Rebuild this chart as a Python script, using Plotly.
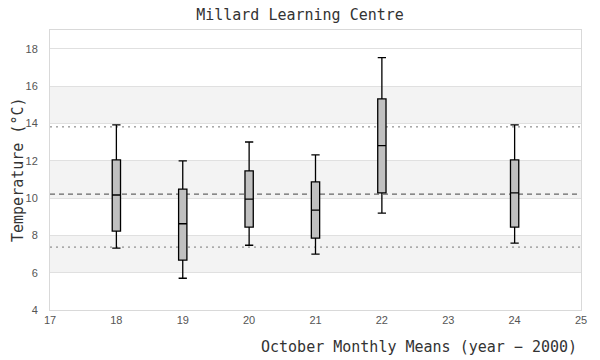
import plotly.graph_objects as go

years = [18, 19, 20, 21, 22, 24]
upper_whisker = [13.92, 11.99, 13.00, 12.31, 17.52, 13.92]
q3_vals = [12.04, 10.48, 11.45, 10.86, 15.31, 12.04]
median_vals = [10.16, 8.62, 9.94, 9.35, 12.81, 10.27]
q1_vals = [8.23, 6.67, 8.44, 7.85, 10.27, 8.44]
lower_whisker = [7.31, 5.70, 7.47, 6.99, 9.19, 7.58]

mean_line = 10.21
upper_line = 13.81
lower_line = 7.37

band_ranges = [(6, 8), (10, 12), (14, 16)]
y_ticks = [4, 6, 8, 10, 12, 14, 16, 18]
x_ticks = [17, 18, 19, 20, 21, 22, 23, 24, 25]

MONO = "DejaVu Sans Mono"
TICK_FONT = "Liberation Sans"

fig = go.Figure()
fig.add_trace(go.Box(
    x=years,
    q1=q1_vals,
    median=median_vals,
    q3=q3_vals,
    lowerfence=lower_whisker,
    upperfence=upper_whisker,
    width=0.125,
    whiskerwidth=1,
    fillcolor="#c0c0c0",
    line=dict(color="#000000", width=1.3),
    boxpoints=False,
    showlegend=False,
    hoverinfo="skip",
))

shapes = []
for lo, hi in band_ranges:
    shapes.append(dict(type="rect", xref="paper", x0=0, x1=1, yref="y", y0=lo, y1=hi,
                       fillcolor="#f3f3f3", line=dict(width=0), layer="below"))
shapes.append(dict(type="line", xref="paper", x0=0, x1=1, yref="y", y0=mean_line, y1=mean_line,
                   line=dict(color="#666666", width=1.1, dash="5px,4px"), layer="between"))
for v in (upper_line, lower_line):
    shapes.append(dict(type="line", xref="paper", x0=0, x1=1, yref="y", y0=v, y1=v,
                       line=dict(color="#777777", width=1, dash="2px,4px"), layer="between"))

fig.update_layout(
    width=600, height=360,
    margin=dict(l=50, r=19, t=30, b=50),
    paper_bgcolor="#ffffff",
    plot_bgcolor="#ffffff",
    title=dict(text="Millard Learning Centre", x=0.5, xanchor="center", y=0.958, yanchor="middle",
               font=dict(family=MONO, size=15, color="#333333")),
    shapes=shapes,
    xaxis=dict(range=[17, 25], tickmode="array", tickvals=x_ticks,
               showgrid=False, zeroline=False,
               showline=True, mirror=True, linecolor="#d9d9d9", linewidth=1,
               tickfont=dict(family=TICK_FONT, size=11, color="#555555")),
    yaxis=dict(range=[4, 19], tickmode="array", tickvals=y_ticks,
               showgrid=True, gridcolor="#e0e0e0", gridwidth=1, zeroline=False,
               showline=True, mirror=True, linecolor="#d9d9d9", linewidth=1,
               ticks="outside", ticklen=9, tickcolor="rgba(0,0,0,0)",
               tickfont=dict(family=TICK_FONT, size=11, color="#555555")),
    annotations=[
        dict(text="October Monthly Means (year − 2000)", xref="paper", yref="paper",
             x=1, y=0, xanchor="right", yanchor="middle", xshift=-2, yshift=-37,
             showarrow=False, font=dict(family=MONO, size=15, color="#333333")),
        dict(text="Temperature (°C)", xref="paper", yref="paper", textangle=-90,
             x=0, y=0.5, xanchor="center", yanchor="middle", xshift=-32, yshift=0,
             showarrow=False, font=dict(family=MONO, size=15, color="#333333")),
    ],
)

fig.write_html("out.html", config={"displayModeBar": False},
               post_script="document.body.style.margin='0';")
